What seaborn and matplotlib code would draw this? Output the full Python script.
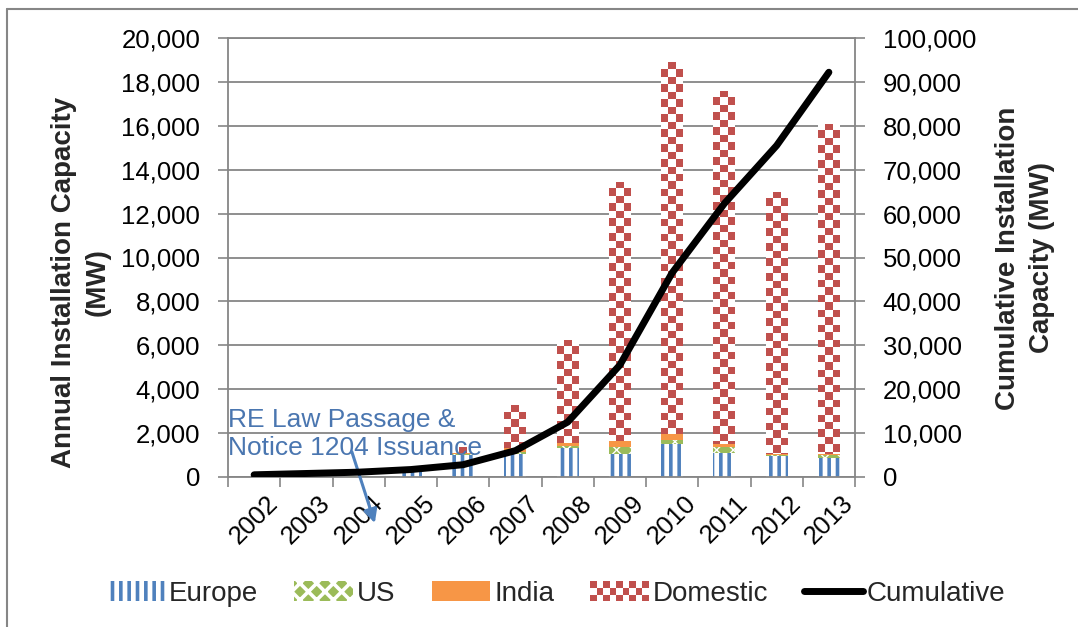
import numpy as np
import pandas as pd
import matplotlib
matplotlib.use("Agg")
import matplotlib.pyplot as plt
import seaborn as sns
from matplotlib.patches import Patch, Rectangle
from matplotlib.lines import Line2D
from matplotlib.colors import ListedColormap
from matplotlib.legend_handler import HandlerBase
from matplotlib.ticker import FuncFormatter, MultipleLocator

# Annual installations by market (MW) and cumulative capacity (MW)
years = [str(y) for y in range(2002, 2014)]
europe = [0, 0, 20, 300, 1000, 1050, 1320, 1030, 1500, 1080, 960, 850]
us = [0, 0, 5, 20, 60, 100, 100, 320, 190, 300, 40, 150]
india = [0, 0, 5, 20, 50, 150, 150, 290, 255, 120, 50, 30]
domestic = [0, 0, 30, 110, 240, 2000, 4690, 11810, 16955, 16100, 11950, 15070]
cumulative = [500, 800, 1100, 1700, 2800, 6000, 12500, 25500, 46500, 62300, 75500, 92200]

BLUE = "#4F81BD"
GREEN = "#9BBB59"
ORANGE = "#F79646"
RED = "#C0504D"
GREY = "#868686"
NOTE = "#4A76B0"

sns.set_theme(style="white")
plt.rcParams["font.family"] = ["Liberation Sans", "DejaVu Sans"]
plt.rcParams["hatch.linewidth"] = 2.6

FS = 18.5

fig = plt.figure(figsize=(10.78, 6.27), dpi=100)
W, H = 1078, 627
ax = fig.add_axes([228 / W, 1 - 477 / H, (855 - 228) / W, (477 - 38) / H])
ax2 = ax.twinx()

df = pd.DataFrame({"year": years, "Europe": europe, "US": us,
                   "India": india, "Domestic": domestic})
df["top_eu"] = df["Europe"]
df["top_us"] = df["top_eu"] + df["US"]
df["top_in"] = df["top_us"] + df["India"]
df["top_dom"] = df["top_in"] + df["Domestic"]


def draw_layer(col, z, face, edge=None, hatch=None, hlw=None):
    n0 = len(ax.patches)
    sns.barplot(data=df, x="year", y=col, ax=ax, width=0.42, color=face,
                saturation=1, errorbar=None)
    new = ax.patches[n0:]
    for p in new:
        p.set_facecolor(face)
        p.set_edgecolor(edge if edge else face)
        p.set_linewidth(0)
        p.set_zorder(z)
        if hatch:
            p.set_hatch(hatch)
            if hlw is not None and hasattr(p, "set_hatch_linewidth"):
                p.set_hatch_linewidth(hlw)
    return new


# stacked bars, drawn from the full stack height down to the bottom segment
dom_bars = draw_layer("top_dom", 2.0, "white")
checker_cmap = ListedColormap(["white", RED])
sq = 340  # checker square height in MW
for p in dom_bars:
    h = p.get_height()
    if h <= 0:
        continue
    nrows = int(np.ceil(h / sq))
    grid = np.add.outer(np.arange(nrows), np.arange(3)) % 2
    x0, w = p.get_x(), p.get_width()
    im = ax.imshow(grid, cmap=checker_cmap, origin="upper", aspect="auto",
                   interpolation="nearest",
                   extent=(x0, x0 + w, h - nrows * sq, h), zorder=2.05)
    im.set_clip_path(p)
draw_layer("top_in", 2.1, ORANGE)
draw_layer("top_us", 2.2, GREEN, edge="white", hatch="xx", hlw=1.0)
draw_layer("top_eu", 2.3, "white", edge=BLUE, hatch="||", hlw=2.6)

# cumulative line on the secondary axis
sns.lineplot(x=years, y=cumulative, ax=ax2, color="black", linewidth=5,
             solid_capstyle="round", sort=False, legend=False)

ax.set_xlim(-0.5, len(years) - 0.5)
ax.set_ylim(0, 20000)
ax2.set_ylim(0, 100000)

# axes styling
fmt = FuncFormatter(lambda v, _: f"{v:,.0f}")
ax.yaxis.set_major_locator(MultipleLocator(2000))
ax.yaxis.set_major_formatter(fmt)
ax2.yaxis.set_major_locator(MultipleLocator(10000))
ax2.yaxis.set_major_formatter(fmt)

ax.set_xticks(range(len(years)))
ax.set_xticklabels(years, rotation=45, ha="center")
ax.set_xticks(np.arange(-0.5, len(years), 1.0), minor=True)
ax.tick_params(axis="x", which="major", length=0, pad=10, labelsize=FS,
               colors="black")
ax.tick_params(axis="x", which="minor", length=7, width=1.2, color=GREY,
               bottom=True)
ax.tick_params(axis="y", length=7, width=1.2, color=GREY, pad=13,
               labelsize=FS, labelcolor="black", left=True)
ax2.tick_params(axis="y", length=7, width=1.2, color=GREY, pad=13,
                labelsize=FS, labelcolor="black", right=True)
ax.set_xlabel("")
ax.set_ylabel("")
ax2.set_ylabel("")

ax.yaxis.grid(True, color=GREY, linewidth=1.3)
ax.xaxis.grid(False)
ax.set_axisbelow(True)
for name, sp in ax.spines.items():
    sp.set_color(GREY)
    sp.set_linewidth(1.3)
    sp.set_visible(name in ("left", "bottom", "top"))
for name, sp in ax2.spines.items():
    sp.set_color(GREY)
    sp.set_linewidth(1.3)
    sp.set_visible(name == "right")

# axis titles
TFS = 20
fig.text(81 / W, 1 - 282 / H, "Annual Installation Capacity\n(MW)",
         rotation=90, ha="center", va="center", multialignment="center",
         fontsize=TFS, fontweight="bold", linespacing=1.4)
fig.text(1025 / W, 1 - 258 / H, "Cumulative Installation\nCapacity (MW)",
         rotation=90, ha="center", va="center", multialignment="center",
         fontsize=TFS, fontweight="bold", linespacing=1.4)

# policy annotation
ax.text(-0.5, 1950, "RE Law Passage &\nNotice 1204 Issuance", color=NOTE,
        fontsize=FS + 0.5, ha="left", va="center", linespacing=1.2, zorder=5)
ax.annotate("", xy=(2.31, -2100), xytext=(1.87, 1150),
            arrowprops=dict(arrowstyle="-|>", color=BLUE, lw=2.2,
                            mutation_scale=20, shrinkA=0, shrinkB=0),
            annotation_clip=False, zorder=5)


class CheckerHandler(HandlerBase):
    def create_artists(self, legend, orig_handle, xdescent, ydescent,
                       width, height, fontsize, trans):
        rows = 3
        s = height / rows
        cols = int(round(width / s))
        s_w = width / cols
        arts = []
        for r in range(rows):
            for c in range(cols):
                col = RED if (r + c) % 2 == 0 else "white"
                arts.append(Rectangle((-xdescent + c * s_w, -ydescent + r * s),
                                      s_w, s, facecolor=col, edgecolor="none",
                                      transform=trans))
        return arts


dom_handle = Patch(facecolor=RED, label="Domestic")
handles = [
    Patch(facecolor="white", edgecolor=BLUE, hatch="||", linewidth=0, label="Europe"),
    Patch(facecolor=GREEN, edgecolor="white", hatch="xx", linewidth=0, label="US"),
    Patch(facecolor=ORANGE, edgecolor=ORANGE, linewidth=0, label="India"),
    dom_handle,
    Line2D([], [], color="black", linewidth=5, solid_capstyle="round",
           label="Cumulative"),
]
fig.legend(handles=handles, loc="center", bbox_to_anchor=(556 / W, 1 - 594 / H),
           ncol=5, frameon=False, fontsize=20, handlelength=2.1,
           handleheight=0.75, handletextpad=0.15, columnspacing=1.3,
           handler_map={dom_handle: CheckerHandler()})

# outer chart frame
fig.add_artist(Line2D([7 / W, 7 / W], [0, 1 - 9 / H], color=GREY, lw=1.5,
                      transform=fig.transFigure))
fig.add_artist(Line2D([7 / W, 1], [1 - 9 / H, 1 - 9 / H], color=GREY, lw=1.5,
                      transform=fig.transFigure))

fig.savefig("out.png", dpi=100)
